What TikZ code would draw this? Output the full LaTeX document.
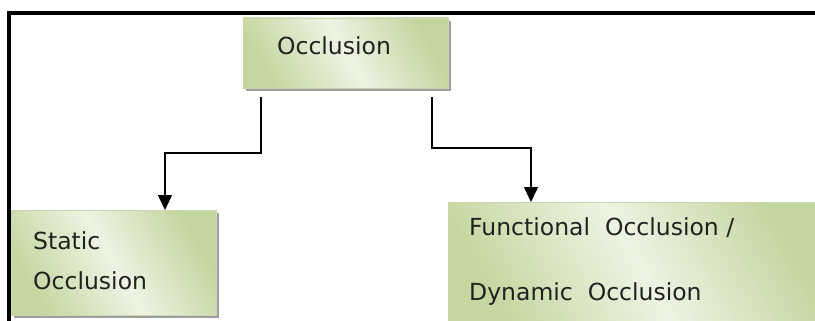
\documentclass[tikz,border=0pt]{standalone}
\usepackage{fontspec}
\setmainfont{DejaVu Sans}
\usetikzlibrary{arrows.meta,calc}
\definecolor{gdark}{HTML}{C5D7A0}
\definecolor{glight}{HTML}{EEF3E3}
\definecolor{gedge}{HTML}{C9D7AE}
\definecolor{txt}{HTML}{222222}
\tikzset{
  greenbox/.style={draw=gedge, line width=0.6pt, rectangle, inner sep=0pt,
    left color=gdark, right color=gdark!90!black!10!gdark, middle color=glight, shading angle=120},
  shadowbox/.style={fill=black!38, draw=none, rectangle, inner sep=0pt},
  lbl/.style={text=txt, font=\fontsize{23.5}{40}\selectfont, inner sep=0pt, align=left},
  conn/.style={line width=1.5pt, -{Triangle[width=14pt,length=15pt]}},
  frameline/.style={line width=3.5pt, black}
}
\begin{document}
\begin{tikzpicture}[x=1pt,y=-1pt]
\useasboundingbox (0,0) rectangle (815,321);
% frame
\draw[frameline] (7,13) -- (815,13);
\draw[frameline] (9,11.5) -- (9,321);
% shadows
\node[shadowbox, minimum width=205pt, minimum height=70pt] (occsh) at (348.5,56) {};
\node[shadowbox, minimum width=205pt, minimum height=105pt] (statsh) at (116.5,265.5) {};
\node[shadowbox, minimum width=382pt, minimum height=125pt] (funcsh) at (642,267.5) {};
% boxes
\node[greenbox, minimum width=205pt, minimum height=70pt] (occ) at (345.5,53) {};
\node[greenbox, minimum width=205pt, minimum height=105pt] (stat) at (113.5,262.5) {};
\node[greenbox, minimum width=382pt, minimum height=125pt] (func) at (639,264.5) {};
% texts
\node[lbl] (occt) at (334,46) {Occlusion};
\node[lbl, anchor=west] (statt) at (33,261) {Static\\Occlusion};
\node[lbl, anchor=west, font=\fontsize{23.5}{65}\selectfont] (funct) at (469,262) {Functional\ \ Occlusion\ /\\Dynamic\ \ Occlusion};
% connectors
\coordinate (l1) at (261,97);
\coordinate (r1) at (432,97);
\coordinate (sa) at (165,210);
\coordinate (fa) at (531,202);
\draw[conn] (l1) -- (l1 |- 0,153) -| (sa);
\draw[conn] (r1) -- (r1 |- 0,148) -| (fa);
\end{tikzpicture}
\end{document}
